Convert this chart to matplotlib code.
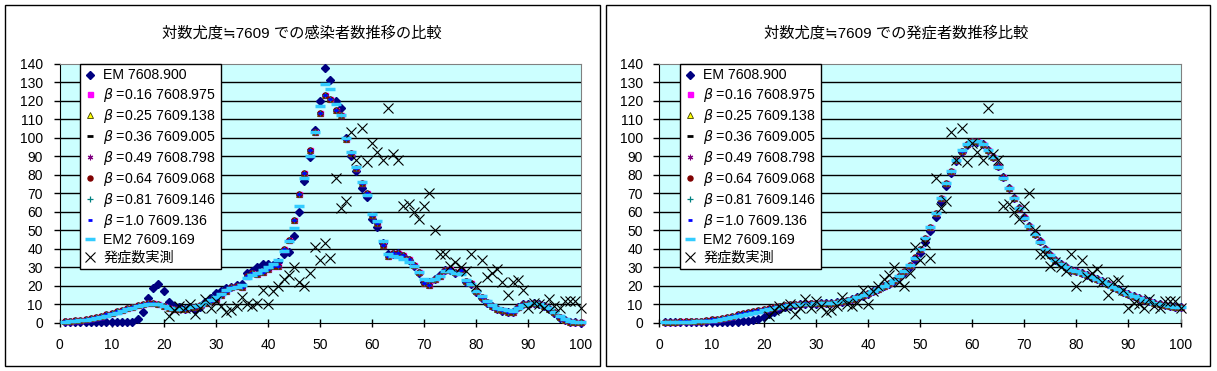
import matplotlib
matplotlib.use("Agg")
import matplotlib.pyplot as plt
from matplotlib.patches import Rectangle

plt.rcParams['font.family'] = ['Liberation Sans', 'Noto Sans CJK JP', 'DejaVu Sans']

#### data (day 1..100)

days = list(range(1, 101))

# 感染者数 (left chart)
inf_em = [0.3, 0.3, 0.3, 0.3, 0.3, 0.3, 0.3, 0.3, 0.3, 0.3,
          0.3, 0.3, 0.3, 0.4, 2.2, 5.8, 13.3, 18.7, 21.0, 17.0,
          11.5, 9.4, 8.4, 7.4, 8.5, 7.0, 8.5, 11.5, 13.3, 16.0,
          17.5, 18.7, 19.6, 20.5, 21.0, 27.0, 28.0, 30.0, 32.0, 32.0,
          31.5, 33.0, 37.0, 38.5, 46.7, 59.8, 76.8, 89.5, 104.0, 119.6,
          137.7, 131.0, 120.0, 116.0, 100.0, 90.0, 82.0, 73.0, 68.0, 56.0,
          52.0, 43.0, 37.0, 37.0, 37.5, 36.0, 34.0, 31.0, 27.0, 22.0,
          22.0, 24.0, 26.0, 28.5, 28.5, 27.0, 28.0, 22.0, 21.0, 16.5,
          13.5, 11.0, 9.0, 7.5, 6.7, 6.2, 5.9, 8.5, 10.0, 10.4,
          10.6, 10.2, 9.0, 7.6, 5.5, 2.8, 1.4, 0.7, 0.3, 0.2]

inf_beta = [1.0, 1.2, 1.5, 1.8, 2.2, 2.6, 3.2, 3.8, 4.6, 5.5,
            6.3, 7.2, 8.0, 8.8, 9.6, 10.3, 10.8, 10.9, 10.4, 9.3,
            8.3, 7.7, 7.5, 7.8, 8.4, 8.6, 9.5, 10.8, 12.0, 13.2,
            15.0, 17.2, 19.3, 20.0, 19.6, 25.5, 27.0, 26.5, 27.5, 29.0,
            30.5, 31.0, 40.0, 45.0, 55.5, 69.5, 81.0, 93.5, 103.0, 113.5,
            123.0, 121.0, 115.0, 112.0, 99.0, 91.5, 83.5, 75.5, 70.0, 58.5,
            54.0, 42.0, 36.0, 37.5, 38.0, 36.5, 34.5, 31.5, 27.5, 21.5,
            20.5, 23.5, 25.5, 28.5, 29.0, 27.5, 28.5, 22.5, 21.5, 17.0,
            14.0, 11.5, 9.2, 7.6, 6.8, 6.2, 5.9, 8.6, 10.0, 10.5,
            10.8, 10.4, 9.2, 7.8, 5.8, 3.0, 1.6, 0.8, 0.4, 0.3]

inf_em2 = [0.7, 0.9, 1.1, 1.4, 1.8, 2.2, 2.7, 3.3, 4.0, 4.8,
           5.6, 6.5, 7.3, 8.2, 9.0, 9.8, 10.3, 10.5, 10.1, 9.2,
           8.3, 7.8, 7.7, 8.0, 8.6, 9.0, 9.9, 11.0, 12.3, 13.8,
           15.6, 17.6, 19.0, 19.5, 20.5, 24.5, 26.0, 27.0, 28.5, 30.0,
           32.0, 34.0, 39.0, 44.0, 51.0, 63.0, 78.0, 90.0, 103.0, 117.0,
           129.0, 126.0, 118.0, 112.0, 100.0, 92.0, 84.0, 76.0, 69.0, 59.0,
           55.0, 44.0, 37.0, 36.0, 35.5, 34.5, 33.0, 30.5, 27.5, 23.5,
           23.0, 24.0, 25.5, 28.0, 28.0, 27.0, 26.5, 23.0, 21.0, 17.5,
           14.5, 12.0, 9.8, 8.2, 7.4, 6.8, 6.6, 8.2, 9.6, 10.3,
           10.6, 10.3, 9.3, 8.0, 6.2, 3.6, 2.0, 1.0, 0.6, 0.4]

# 発症者数 (right chart)
ons_em = [0.4, 0.4, 0.4, 0.4, 0.4, 0.4, 0.4, 0.4, 0.4, 0.4,
          0.4, 0.4, 0.5, 0.6, 0.7, 0.9, 1.2, 1.7, 2.4, 3.4,
          4.6, 6.0, 7.4, 8.5, 9.3, 9.8, 10.1, 10.3, 10.4, 10.5,
          10.6, 10.8, 10.9, 11.1, 11.5, 12.1, 12.9, 13.8, 14.8, 15.9,
          17.1, 18.4, 19.7, 21.1, 22.7, 24.6, 27.0, 30.0, 33.8, 38.0,
          43.5, 49.5, 57.0, 65.5, 74.0, 81.0, 87.5, 92.5, 96.0, 97.5,
          97.8, 96.5, 93.5, 89.5, 84.5, 78.5, 73.0, 67.5, 62.0, 57.0,
          52.5, 48.0, 44.0, 40.0, 36.8, 34.0, 31.8, 30.0, 28.8, 27.8,
          26.8, 25.8, 24.8, 23.6, 22.4, 21.0, 19.6, 18.2, 16.8, 15.5,
          14.3, 13.3, 12.4, 11.6, 10.9, 10.3, 9.8, 9.3, 8.9, 8.5]

ons_beta = [0.8, 0.8, 0.8, 0.9, 0.9, 1.0, 1.1, 1.3, 1.6, 1.9,
            2.3, 2.8, 3.4, 4.0, 4.6, 5.2, 5.8, 6.5, 7.1, 7.7,
            8.3, 8.8, 9.3, 9.7, 10.0, 10.3, 10.5, 10.6, 10.7, 10.8,
            10.9, 11.0, 11.0, 11.3, 11.8, 12.4, 13.1, 14.0, 15.0, 16.1,
            17.3, 18.6, 20.0, 21.6, 23.4, 25.6, 28.2, 31.5, 35.5, 40.0,
            46.0, 52.0, 59.5, 67.5, 75.5, 82.0, 88.0, 93.0, 96.5, 98.0,
            98.0, 96.5, 93.5, 89.5, 84.5, 78.5, 73.0, 67.5, 62.0, 57.0,
            52.5, 48.0, 44.0, 40.0, 36.8, 34.0, 31.8, 30.0, 28.8, 27.8,
            26.8, 25.8, 24.8, 23.6, 22.4, 21.0, 19.6, 18.2, 16.8, 15.5,
            14.3, 13.3, 12.4, 11.6, 10.9, 10.3, 9.8, 9.3, 8.9, 8.5]

ons_em2 = [0.6, 0.6, 0.6, 0.7, 0.7, 0.8, 0.9, 1.0, 1.1, 1.3,
           1.6, 2.0, 2.5, 3.0, 3.6, 4.2, 4.8, 5.5, 6.2, 6.9,
           7.6, 8.2, 8.8, 9.2, 9.6, 9.9, 10.2, 10.4, 10.5, 10.6,
           10.7, 10.9, 11.0, 11.3, 11.7, 12.3, 13.0, 13.9, 14.9, 16.0,
           17.2, 18.5, 19.9, 21.5, 23.2, 25.4, 28.0, 31.3, 35.3, 39.8,
           45.8, 52.0, 59.5, 67.6, 75.6, 82.2, 88.2, 93.2, 96.6, 98.1,
           98.0, 96.4, 93.4, 89.3, 84.3, 78.4, 72.9, 67.4, 61.9, 56.9,
           52.4, 47.9, 43.9, 40.0, 36.8, 34.0, 31.8, 30.0, 28.8, 27.8,
           26.8, 25.8, 24.8, 23.6, 22.4, 21.0, 19.6, 18.2, 16.8, 15.5,
           14.3, 13.3, 12.4, 11.6, 10.9, 10.3, 9.8, 9.3, 8.9, 8.5]

# 発症数実測 (day 21..100)
obs_days = list(range(21, 101))
obs = [4, 7, 9, 8, 10, 5, 8, 13, 8, 12,
       9, 6, 7, 9, 14, 10, 9, 11, 18, 10,
       17, 20, 24, 26, 30, 22, 20, 27, 41, 34,
       43, 35, 78, 62, 66, 103, 88, 105, 87, 97,
       92, 88, 116, 91, 88, 63, 64, 60, 56, 63,
       70, 50, 37, 37, 31, 33, 30, 28, 37, 20,
       34, 25, 27, 29, 22, 15, 22, 23, 18, 8,
       11, 10, 8, 13, 9, 8, 12, 12, 12, 8]

em_lbl = "EM 7608.900"
beta_lbls = [r"$\beta$ =0.16 7608.975", r"$\beta$ =0.25 7609.138",
             r"$\beta$ =0.36 7609.005", r"$\beta$ =0.49 7608.798",
             r"$\beta$ =0.64 7609.068", r"$\beta$ =0.81 7609.146",
             r"$\beta$ =1.0 7609.136"]
em2_lbl = "EM2 7609.169"
obs_lbl = "発症数実測"

title_l = "対数尤度≒7609 での感染者数推移の比較"
title_r = "対数尤度≒7609 での発症者数推移比較"

#### styles

beta_styles = [
    dict(marker='s', color='#FF00FF', ms=3.6, mec='#FF00FF'),
    dict(marker='^', color='#FFFF00', ms=4.2, mec='#404000', mew=0.6),
    dict(marker='_', color='black', ms=5, mew=2),
    dict(marker=(6, 2, 0), color='#800080', ms=4, mew=0.8),
    dict(marker='o', color='#800000', ms=3.6, mec='#800000'),
    dict(marker='+', color='#008080', ms=4, mew=0.9),
    dict(marker='_', color='#0000FF', ms=3.5, mew=2),
]

W, H = 1217, 371
fig = plt.figure(figsize=(W / 100, H / 100), dpi=100)

# chart frames
fig.patches.append(Rectangle((5 / W, 5 / H), 595 / W, 361 / H, transform=fig.transFigure,
                             fill=False, ec='black', lw=1))
fig.patches.append(Rectangle((606 / W, 5 / H), 604 / W, 361 / H, transform=fig.transFigure,
                             fill=False, ec='black', lw=1))


def draw_chart(x0, em, beta, em2, title, tx):
    ax = fig.add_axes([x0 / W, 48 / H, 521 / W, 259.5 / H])
    ax.set_facecolor('#CCFFFF')
    for v in range(10, 140, 10):
        ax.axhline(v, color='black', lw=1, zorder=1)

    ax.plot(days, em, ls='none', marker='D', color='#000080', ms=3.8, label=em_lbl,
            clip_on=False, zorder=3)
    for lbl, st in zip(beta_lbls, beta_styles):
        ax.plot(days, beta, ls='none', label=lbl, clip_on=False, zorder=3, **st)
    ax.plot(days, em2, ls='none', marker='_', color='#33CCFF', ms=7, mew=2.5, label=em2_lbl,
            clip_on=False, zorder=3)
    ax.plot(obs_days, obs, ls='none', marker='x', color='black', ms=7, mew=0.8, label=obs_lbl,
            clip_on=False, zorder=4)

    ax.set_xlim(0, 100)
    ax.set_ylim(0, 140)
    ax.set_xticks(range(0, 101, 10))
    ax.set_yticks(range(0, 141, 10))
    ax.tick_params(axis='x', direction='inout', length=6, width=1, pad=8, labelsize=10)
    ax.tick_params(axis='y', direction='out', length=4, width=1, pad=8, labelsize=10)
    for s in ['top', 'right']:
        ax.spines[s].set_color('#808080')
    for s in ['left', 'bottom']:
        ax.spines[s].set_color('black')

    leg = ax.legend(loc='upper left', bbox_to_anchor=(0.039, 1.0), borderaxespad=0,
                    numpoints=1, handlelength=0.8, handletextpad=0.5, fontsize=10.2,
                    labelspacing=0.22, borderpad=0.35, fancybox=False, framealpha=1,
                    edgecolor='black')
    leg.get_frame().set_linewidth(1)
    leg.set_zorder(5)

    fig.text(tx / W, 1 - 33 / H, title, ha='center', va='center', fontsize=11)
    return ax


draw_chart(59.5, inf_em, inf_beta, inf_em2, title_l, 302)
draw_chart(659.5, ons_em, ons_beta, ons_em2, title_r, 896)

fig.savefig("out.png", dpi=100)
